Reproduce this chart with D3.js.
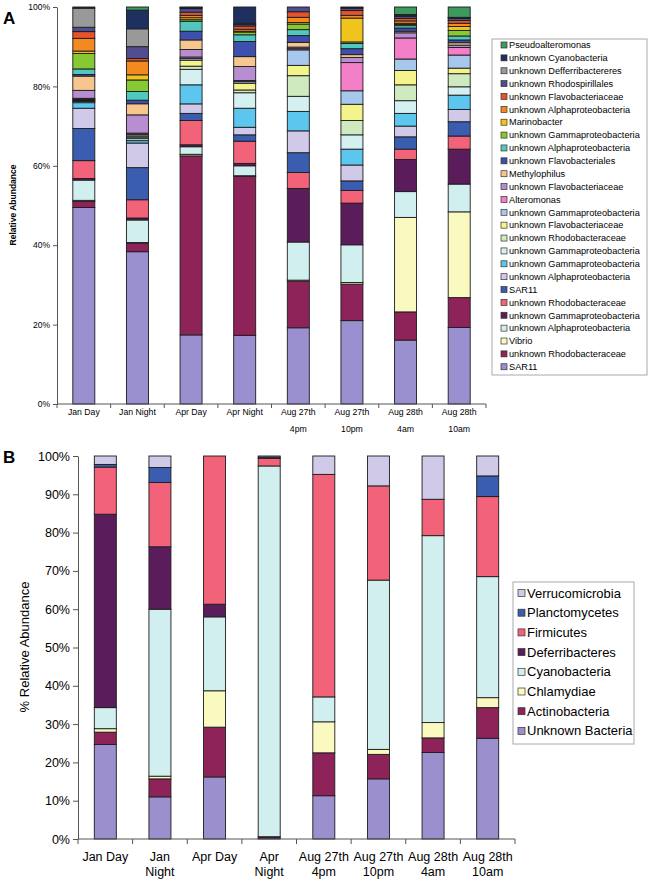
<!DOCTYPE html>
<html><head><meta charset="utf-8">
<script src="https://cdn.jsdelivr.net/npm/d3@7"></script>
<style>body{margin:0;background:#fff}svg{display:block}text{font-family:"Liberation Sans",Arial,sans-serif;fill:#000}</style>
</head><body>
<script>
// ---------- Panel A data (stack order bottom -> top) ----------
const seriesA = ["SAR11","unknown Rhodobacteraceae","Vibrio","unknown Alphaproteobacteria","unknown Gammaproteobacteria","unknown Rhodobacteraceae","SAR11","unknown Alphaproteobacteria","unknown Gammaproteobacteria","unknown Gammaproteobacteria","unknown Rhodobacteraceae","unknown Flavobacteriaceae","unknown Gammaproteobacteria","Alteromonas","unknown Flavobacteriaceae","Methylophilus","unknown Flavobacteriales","unknown Alphaproteobacteria","unknown Gammaproteobacteria","Marinobacter","unknown Alphaproteobacteria","unknown Flavobacteriaceae","unknown Rhodospirillales","unknown Defferribactereres","unknown Cyanobacteria","Pseudoalteromonas"];
const colorsA = ["#9a8fcf","#8e235a","#fafac0","#d2eff0","#5a1c5a","#f2637a","#3a5db0","#d0c9e8","#5cc6ef","#d4f0f0","#cfeabf","#f5f48c","#a7c8ec","#f27fc7","#b78ecf","#f7c68f","#3f4fae","#52c7be","#86c933","#f1c41d","#f28a1f","#e4532a","#504d90","#999999","#1e305f","#3c9a5f"];
const categoriesA = ["Jan Day","Jan Night","Apr Day","Apr Night","Aug 27th\n4pm","Aug 27th\n10pm","Aug 28th\n4am","Aug 28th\n10am"];
const aJanDay    = [49.5,1.5,0.3,5.1,0.4,4.5,8.1,5.1,1.4,0.3,0.2,0.2,0.2,0.2,2.0,3.6,0.4,1.4,3.9,0.6,3.2,1.7,1.1,4.8,0.3,0];
const aJanNight  = [38.4,2.2,0.1,5.7,0.5,4.6,8.1,6.2,0.6,0.5,0.4,0.3,0.4,0.3,4.6,2.8,0.9,2.2,2.9,1.3,3.5,0.6,3.0,4.5,4.7,0.8];
const aAprDay    = [17.4,45.1,0.4,1.9,0.5,6.1,1.8,2.4,4.8,3.9,0.8,1.5,0.4,0.4,1.9,2.4,2.2,2.5,0.4,0.5,0.6,0.8,0.9,0.2,0.1,0.1];
const aAprNight  = [17.3,40.0,0.2,2.5,0.6,5.6,1.6,1.9,4.8,3.9,0.7,1.7,0.4,0.3,3.5,2.5,3.8,1.7,0.7,0.2,0.5,0.8,0.4,0.3,4.1,0];
const aAug27_4pm = [19.2,11.7,0.3,9.6,13.5,4.0,5.0,5.5,4.9,3.8,5.2,2.6,3.9,0.3,0.4,1.2,1.7,1.5,1.4,0.4,1.3,1.4,1.2,0,0,0];
const aAug27_10pm= [21.0,9.2,0.4,9.5,10.5,3.2,2.4,4.0,4.0,3.6,3.6,4.1,3.4,7.1,1.3,0.7,1.5,1.3,0.4,6.0,0.7,1.2,0.6,0.1,0.2,0];
const aAug28_4am = [16.1,7.1,23.8,6.5,8.1,2.6,3.1,2.7,3.2,3.2,4.0,3.6,2.9,5.3,1.3,0.4,0.8,0.6,0.3,0.3,0.6,0.6,0.5,0.2,0.3,1.9];
const aAug28_10am= [19.3,7.5,21.6,7.0,8.8,3.3,3.6,3.1,3.6,2.1,3.3,1.4,3.3,1.9,0.6,0.6,0.7,1.0,1.4,1.0,0.8,0.7,0.5,0.2,0.1,2.6];
const samplesA = [aJanDay,aJanNight,aAprDay,aAprNight,aAug27_4pm,aAug27_10pm,aAug28_4am,aAug28_10am];
const ticksA = [0,0.2,0.4,0.6,0.8,1];

// ---------- Panel B data ----------
const seriesB = ["Unknown Bacteria","Actinobacteria","Chlamydiae","Cyanobacteria","Deferribacteres","Firmicutes","Planctomycetes","Verrucomicrobia"];
const colorsB = ["#9b90cd","#8e235a","#fafac0","#d2eff0","#5a1c5a","#f2637a","#3a5db0","#d0c9e8"];
const categoriesB = ["Jan Day","Jan\nNight","Apr Day","Apr\nNight","Aug 27th\n4pm","Aug 27th\n10pm","Aug 28th\n4am","Aug 28th\n10am"];
const bJanDay    = [24.7,3.2,0.9,5.5,50.5,12.3,0.7,2.2];
const bJanNight  = [11.0,4.7,0.7,43.6,16.3,16.8,3.9,3.0];
const bAprDay    = [16.2,13.0,9.5,19.3,3.3,38.7,0,0];
const bAprNight  = [0.3,0.3,0,96.8,0,2.0,0.3,0.3];
const bAug27_4pm = [11.3,11.2,8.1,6.5,0,58.1,0,4.8];
const bAug27_10pm= [15.7,6.4,1.3,44.2,0,24.6,0,7.8];
const bAug28_4am = [22.6,3.8,4.0,48.8,0,9.5,0,11.3];
const bAug28_10am= [26.3,8.0,2.6,31.6,0,20.9,5.4,5.2];
const samplesB = [bJanDay,bJanNight,bAprDay,bAprNight,bAug27_4pm,bAug27_10pm,bAug28_4am,bAug28_10am];
const ticksB = [0,0.1,0.2,0.3,0.4,0.5,0.6,0.7,0.8,0.9,1];

const W = 651, H = 882;
const svg = d3.select("body").append("svg").attr("width",W).attr("height",H);

function panel(opts){
  const {series,colors,categories,samples,ticks,x0,x1,y0,y1,bw,tickFont,catFont,catY,catDy,tickLen} = opts;
  const keys = series.map((s,i)=>"k"+i);
  const table = samples.map((vals,ci)=>{const r={cat:categories[ci]}; vals.forEach((v,i)=>r[keys[i]]=v); return r;});
  const stack = d3.stack().keys(keys).offset(d3.stackOffsetExpand)(table);
  const n = categories.length;
  const step = (x1-x0)/n;
  const p = 1 - bw/step;
  const x = d3.scaleBand().domain(categories).range([x0,x1]).paddingInner(p).paddingOuter(p/2);
  const y = d3.scaleLinear().domain([0,1]).range([y0,y1]);
  const g = svg.append("g");
  stack.forEach((layer,li)=>{
    g.append("g").selectAll("rect").data(layer).join("rect")
      .attr("x",d=>x(d.data.cat)).attr("width",x.bandwidth())
      .attr("y",d=>y(d[1])).attr("height",d=>Math.max(0,y(d[0])-y(d[1])))
      .attr("fill",colors[li]).attr("stroke","#1c1c1c").attr("stroke-width",0.9);
  });
  const ya = g.append("g").attr("transform",`translate(${x0},0)`)
    .call(d3.axisLeft(y).tickValues(ticks).tickFormat(d3.format(".0%")).tickSize(tickLen).tickSizeOuter(0));
  ya.selectAll("text").style("font-size",tickFont+"px").attr("fill","#000");
  ya.selectAll("line,path").attr("stroke","#555");
  const boundaries = d3.range(n+1).map(i=>x0+i*x.step());
  g.append("line").attr("x1",x0).attr("x2",x1).attr("y1",y0).attr("y2",y0).attr("stroke","#555");
  g.selectAll(".bt").data(boundaries).join("line").attr("class","bt")
    .attr("x1",d=>d).attr("x2",d=>d).attr("y1",y0).attr("y2",y0+tickLen).attr("stroke","#555");
  const lab = g.selectAll(".cl").data(categories).join("text").attr("class","cl")
    .attr("text-anchor","middle").style("font-size",catFont+"px")
    .attr("transform",d=>`translate(${x(d)+x.bandwidth()/2},${catY})`);
  lab.each(function(d){
    const t=d3.select(this);
    d.split("\n").forEach((s,i)=>t.append("tspan").attr("x",0).attr("y",i*catDy).text(s));
  });
  return g;
}

panel({series:seriesA,colors:colorsA,categories:categoriesA,samples:samplesA,ticks:ticksA,
  x0:57,x1:486,y0:404,y1:7,bw:22,tickFont:8.5,catFont:8.7,catY:415,catDy:17,tickLen:4});
panel({series:seriesB,colors:colorsB,categories:categoriesB,samples:samplesB,ticks:ticksB,
  x0:78,x1:515,y0:839,y1:456,bw:22,tickFont:12.5,catFont:12.5,catY:861,catDy:15,tickLen:5});

svg.append("text").attr("x",3).attr("y",24).style("font-size","17px").style("font-weight","bold").text("A");
svg.append("text").attr("x",3).attr("y",463).style("font-size","17px").style("font-weight","bold").text("B");
svg.append("text").attr("transform","translate(16,205) rotate(-90)").attr("text-anchor","middle")
  .style("font-size","8.5px").style("font-weight","bold").text("Relative Abundance");
svg.append("text").attr("transform","translate(29,647) rotate(-90)").attr("text-anchor","middle")
  .style("font-size","13px").text("% Relative Abundance");

function legend(series,colors,bx,by,bwid,bht,sx,sy0,gap,sw,font){
  const g = svg.append("g");
  g.append("rect").attr("x",bx).attr("y",by).attr("width",bwid).attr("height",bht)
    .attr("fill","#fff").attr("stroke","#aaa").attr("stroke-width",1);
  const items = series.map((s,i)=>({s,c:colors[i]})).reverse();
  const it = g.selectAll(".li").data(items).join("g").attr("transform",(d,i)=>`translate(${sx},${sy0+i*gap})`);
  it.append("rect").attr("x",0).attr("y",-sw/2).attr("width",sw).attr("height",sw).attr("fill",d=>d.c).attr("stroke","#333").attr("stroke-width",0.7);
  it.append("text").attr("x",sw+2).attr("dy","0.35em").style("font-size",font+"px").text(d=>d.s);
}
legend(seriesA,colorsA,492,39,155,336,501,45,12.87,6,9.2);
legend(seriesB,colorsB,513,582,121,162,518,593,19.7,7,13);
</script>
</body></html>
